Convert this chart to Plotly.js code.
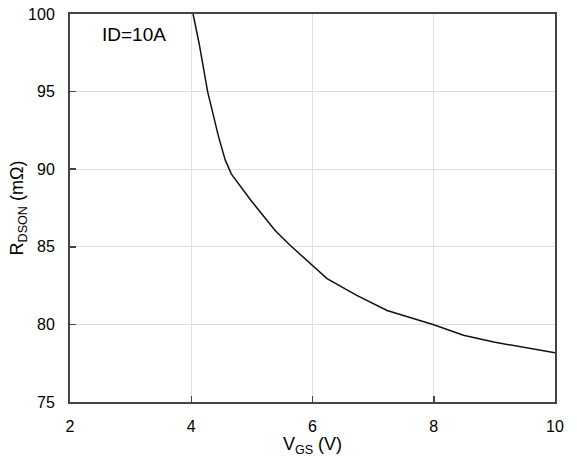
<!DOCTYPE html>
<html>
<head>
<meta charset="utf-8">
<script src="https://cdn.plot.ly/plotly-3.0.1.min.js"></script>
<style>html,body{margin:0;padding:0;background:#fff;}#chart{width:577px;height:457px;}</style>
</head>
<body>
<div id="chart"></div>
<script>
const vgs = [4.03, 4.13, 4.27, 4.45, 4.56, 4.66, 4.97, 5.38, 5.63, 6.24, 6.73, 7.23, 8.0, 8.49, 8.99, 10.0];
const rdson = [100.0, 98.1, 95.0, 92.1, 90.6, 89.7, 88.06, 86.07, 85.1, 82.95, 81.87, 80.9, 79.98, 79.3, 78.86, 78.17];
const xTicks = [2, 4, 6, 8, 10];
const yTicks = [75, 80, 85, 90, 95, 100];
const noteText = "ID=10A";

const font = {family: "Liberation Sans, Arial, sans-serif", color: "#000"};
const axisCommon = {
  showline: true, linecolor: "#444", linewidth: 2, mirror: true,
  showgrid: true, gridcolor: "#e0e0e0", gridwidth: 1,
  ticks: "inside", ticklen: 6, tickcolor: "#444", tickwidth: 1.5,
  zeroline: false, tickfont: Object.assign({size: 16}, font)
};
const layout = {
  width: 577, height: 457,
  margin: {l: 70, r: 22, t: 14, b: 55},
  paper_bgcolor: "#fff", plot_bgcolor: "#fff",
  showlegend: false,
  xaxis: Object.assign({}, axisCommon, {
    range: [2, 10], tickvals: xTicks, ticktext: xTicks.map(String),
    ticklabelstandoff: 9,
    title: {text: "V<sub>GS</sub> (V)", font: Object.assign({size: 18}, font), standoff: 0}
  }),
  yaxis: Object.assign({}, axisCommon, {
    range: [75, 100], tickvals: yTicks, ticktext: yTicks.map(String),
    ticklabelstandoff: 10,
    title: {text: "R<sub>DSON</sub> (mΩ)", font: Object.assign({size: 18}, font), standoff: 0}
  }),
  annotations: [{
    x: 3.06, y: 98.7, xref: "x", yref: "y", text: noteText, showarrow: false,
    font: Object.assign({size: 19}, font)
  }]
};
Plotly.newPlot("chart", [{
  x: vgs, y: rdson, type: "scatter", mode: "lines",
  line: {color: "#111", width: 1.5}
}], layout, {staticPlot: true, displayModeBar: false});
</script>
</body>
</html>
